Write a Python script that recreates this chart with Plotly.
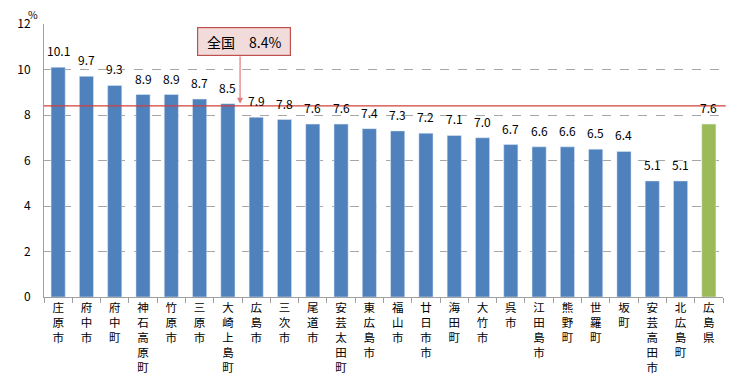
import plotly.graph_objects as go

categories = ["庄原市", "府中市", "府中町", "神石高原町", "竹原市", "三原市", "大崎上島町", "広島市",
              "三次市", "尾道市", "安芸太田町", "東広島市", "福山市", "廿日市市", "海田町", "大竹市",
              "呉市", "江田島市", "熊野町", "世羅町", "坂町", "安芸高田市", "北広島町", "広島県"]
values = [10.1, 9.7, 9.3, 8.9, 8.9, 8.7, 8.5, 7.9, 7.8, 7.6, 7.6, 7.4, 7.3, 7.2, 7.1, 7.0,
          6.7, 6.6, 6.6, 6.5, 6.4, 5.1, 5.1, 7.6]
national_value = 8.4
national_label = "全国　8.4%"
y_ticks = [0, 2, 4, 6, 8, 10, 12]

FONT = "Noto Sans CJK JP"
colors = ["#9bbb59" if c == "広島県" else "#4f81bd" for c in categories]
tick_text = ["<br>".join(list(c)) for c in categories]

fig = go.Figure()
fig.add_trace(go.Bar(x=categories, y=values, marker_color=colors, width=0.5, showlegend=False))

for c, v in zip(categories, values):
    fig.add_annotation(x=c, y=v, text=f"{v:.1f}", showarrow=False, yanchor="bottom", yshift=6,
                       font=dict(family=FONT, size=12, color="#000"))

fig.add_shape(type="line", xref="paper", x0=0, x1=1.004, yref="y", y0=national_value, y1=national_value,
              line=dict(color="#d0403c", width=1.3))

# arrow from the box to the national line
fig.add_annotation(x=6.43, y=national_value + 0.1, ax=6.43, ay=10.64, axref="x", ayref="y",
                   xref="x", yref="y", text="", showarrow=True, arrowhead=2, arrowsize=1,
                   arrowwidth=1.2, arrowcolor="#e07a78")
fig.add_annotation(x=6.57, y=11.23, xref="x", yref="y", text=national_label, showarrow=False,
                   bgcolor="#f2dcdb", bordercolor="#c0504d", borderwidth=1.2, borderpad=5,
                   width=82, height=17,
                   font=dict(family=FONT, size=14, color="#000"))

fig.add_annotation(x=-0.016, y=1.035, xref="paper", yref="paper", text="%", showarrow=False,
                   xanchor="center", yanchor="middle", font=dict(family=FONT, size=10.5, color="#000"))

fig.update_xaxes(tickmode="array", tickvals=categories, ticktext=tick_text, tickangle=0,
                 tickson="boundaries", ticks="outside", ticklen=5, tickcolor="#a0a0a0",
                 showline=True, linecolor="#a0a0a0", linewidth=1, automargin=False,
                 tickfont=dict(family=FONT, size=11.5, color="#000"), range=[-0.5, len(categories) - 0.5])
fig.update_yaxes(range=[0, 12], tickvals=y_ticks, showgrid=True, gridcolor="#a6a6a6", griddash="dash",
                 gridwidth=1, showline=True, linecolor="#a0a0a0", linewidth=1, ticks="",
                 ticklabelstandoff=10, automargin=False,
                 tickfont=dict(family=FONT, size=12, color="#000"), zeroline=False)

# page body has an 8px margin, so offsets compensate for it
fig.update_layout(width=756, height=379, margin=dict(l=36, r=41, t=16, b=90),
                  plot_bgcolor="white", paper_bgcolor="white", bargap=0.5,
                  font=dict(family=FONT))
fig.write_html("out.html")
